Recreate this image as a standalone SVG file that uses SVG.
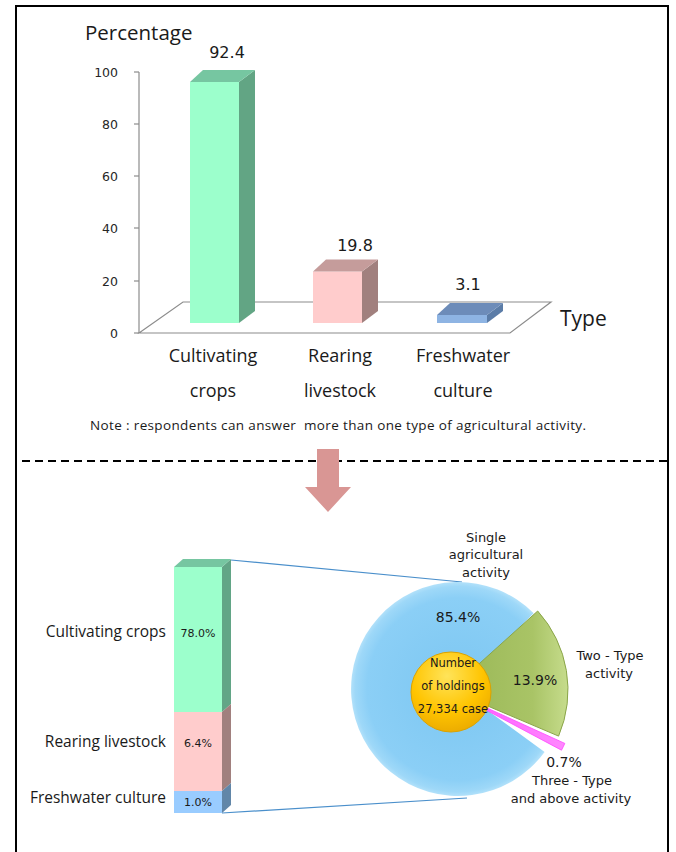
<svg xmlns="http://www.w3.org/2000/svg" width="676" height="852" viewBox="0 0 676 852">
<style>
.lbl{font-family:"Open Sans","Noto Sans",sans-serif;fill:#1a1a1a}
.num{font-family:"DejaVu Sans",Verdana,sans-serif;fill:#1a1a1a}
.tick{font-family:"DejaVu Sans",Verdana,sans-serif;font-size:12.5px;fill:#262626;text-anchor:end}
.axis{stroke:#8c8c8c;stroke-width:1.2;fill:none}
.conn{stroke:#4a8fcb;stroke-width:1.2;fill:none}
</style>
<defs>
<radialGradient id="gBlue" gradientUnits="userSpaceOnUse" cx="458" cy="689" r="107">
<stop offset="0" stop-color="#7cc6f1"/>
<stop offset="0.85" stop-color="#8bcff6"/>
<stop offset="0.96" stop-color="#9ed8f8"/>
<stop offset="1" stop-color="#b2e1fa"/>
</radialGradient>
<linearGradient id="gGreen" x1="0" y1="0" x2="1" y2="0">
<stop offset="0" stop-color="#98b655"/>
<stop offset="0.7" stop-color="#a9c466"/>
<stop offset="1" stop-color="#c6dc8c"/>
</linearGradient>
<linearGradient id="gPink" x1="0" y1="0" x2="1" y2="0">
<stop offset="0" stop-color="#ff55ff"/>
<stop offset="1" stop-color="#ff88ff"/>
</linearGradient>
<radialGradient id="gYel" cx="0.45" cy="0.3" r="0.75">
<stop offset="0" stop-color="#ffe45a"/>
<stop offset="0.6" stop-color="#ffc400"/>
<stop offset="1" stop-color="#e9a800"/>
</radialGradient>
</defs>

<!-- frame -->
<rect x="16" y="6" width="652" height="870" fill="#ffffff" stroke="#000000" stroke-width="2"/>

<!-- top bar chart -->
<g id="top-chart">
<text class="lbl" x="85" y="40" font-size="20.5">Percentage</text>
<polygon class="axis" points="139,333 183,302 551,302 510,333" stroke="#a0a0a0"/>
<line class="axis" x1="139" y1="72" x2="139" y2="333"/>
<g stroke="#8c8c8c" stroke-width="1.2">
<line x1="134" y1="72" x2="139" y2="72"/>
<line x1="134" y1="124" x2="139" y2="124"/>
<line x1="134" y1="176" x2="139" y2="176"/>
<line x1="134" y1="228" x2="139" y2="228"/>
<line x1="134" y1="281" x2="139" y2="281"/>
<line x1="134" y1="333" x2="139" y2="333"/>
</g>
<text class="tick" x="118" y="76.5">100</text>
<text class="tick" x="118" y="128.5">80</text>
<text class="tick" x="118" y="180.5">60</text>
<text class="tick" x="118" y="232.5">40</text>
<text class="tick" x="118" y="285.5">20</text>
<text class="tick" x="118" y="337.5">0</text>
<text class="lbl" x="560" y="326" font-size="21">Type</text>
</g>

<g id="bar-crops">
<rect x="190" y="82" width="49" height="241" fill="#9cffcc"/>
<polygon points="239,82 255,70 255,311 239,323" fill="#62a584"/>
<polygon points="190,82 203,70 255,70 239,82" fill="#76c6a1"/>
<text class="num" x="227" y="58" font-size="16" text-anchor="middle">92.4</text>
<text class="lbl" x="213" y="362" font-size="18" text-anchor="middle">Cultivating</text>
<text class="lbl" x="213" y="397" font-size="18" text-anchor="middle">crops</text>
</g>

<g id="bar-livestock">
<rect x="313" y="271.5" width="49" height="51.5" fill="#ffcccc"/>
<polygon points="362,271.5 378,259.5 378,311 362,323" fill="#a1807e"/>
<polygon points="313,271.5 326,259.5 378,259.5 362,271.5" fill="#c59c9b"/>
<text class="num" x="355" y="251" font-size="16" text-anchor="middle">19.8</text>
<text class="lbl" x="340" y="362" font-size="18" text-anchor="middle">Rearing</text>
<text class="lbl" x="340" y="397" font-size="18" text-anchor="middle">livestock</text>
</g>

<g id="bar-freshwater">
<rect x="437" y="315" width="50" height="8" fill="#8eb4e3"/>
<polygon points="487,315 503,303 503,311 487,323" fill="#5b7ca7"/>
<polygon points="437,315 450,303 503,303 487,315" fill="#6d8cb9"/>
<text class="num" x="468" y="290" font-size="16" text-anchor="middle">3.1</text>
<text class="lbl" x="463" y="362" font-size="18" text-anchor="middle">Freshwater</text>
<text class="lbl" x="463" y="397" font-size="18" text-anchor="middle">culture</text>
</g>

<text class="lbl" x="90" y="430" font-size="13.5" textLength="496" xml:space="preserve" fill="#262626">Note : respondents can answer  more than one type of agricultural activity.</text>

<!-- divider and arrow -->
<line x1="22" y1="461" x2="668" y2="461" stroke="#000000" stroke-width="2" stroke-dasharray="8 5"/>
<polygon id="down-arrow" points="317,449 339,449 339,487 351,487 328,512 305,487 317,487" fill="#d99694"/>

<!-- connectors -->
<g id="connectors">
<line class="conn" x1="231" y1="560" x2="462" y2="582"/>
<line class="conn" x1="222" y1="813" x2="467" y2="798"/>
</g>

<!-- stacked bar -->
<g id="stack-crops">
<rect x="174" y="567" width="48" height="145" fill="#9cffcc"/>
<polygon points="222,567 231,559 231,704 222,712" fill="#62a586"/>
<polygon points="174,567 183,559 231,559 222,567" fill="#76c6a1"/>
<text class="lbl" x="166" y="637" font-size="15.5" text-anchor="end">Cultivating crops</text>
<text class="num" x="198" y="637" font-size="11" text-anchor="middle">78.0%</text>
</g>
<g id="stack-livestock">
<rect x="174" y="712" width="48" height="79" fill="#ffcccc"/>
<polygon points="222,712 231,704 231,783 222,791" fill="#a1807e"/>
<text class="lbl" x="166" y="747" font-size="15.5" text-anchor="end">Rearing livestock</text>
<text class="num" x="198" y="747" font-size="11" text-anchor="middle">6.4%</text>
</g>
<g id="stack-freshwater">
<rect x="174" y="791" width="48" height="22" fill="#99ccff"/>
<polygon points="222,791 231,783 231,805 222,813" fill="#6186a8"/>
<text class="lbl" x="166" y="803" font-size="15.5" text-anchor="end">Freshwater culture</text>
<text class="num" x="198" y="806" font-size="11" text-anchor="middle">1.0%</text>
</g>

<!-- pie -->
<g id="slice-single">
<path d="M458,689 L544.6,751.9 A107,107 0 1 1 533.7,613.3 Z" fill="url(#gBlue)"/>
<text class="num" x="458" y="622" font-size="14" text-anchor="middle">85.4%</text>
<text class="num" x="486" y="542" font-size="13" text-anchor="middle">Single</text>
<text class="num" x="486" y="559" font-size="13" text-anchor="middle">agricultural</text>
<text class="num" x="486" y="577" font-size="13" text-anchor="middle">activity</text>
</g>
<g id="slice-two">
<path d="M450,690 L537.7,611 A118,118 0 0 1 558.6,736.1 Z" fill="url(#gGreen)" stroke="#8aa548" stroke-width="1"/>
<text class="num" x="535" y="685" font-size="14" text-anchor="middle">13.9%</text>
<text class="num" x="610" y="660" font-size="13" text-anchor="middle">Two - Type</text>
<text class="num" x="609" y="678" font-size="13" text-anchor="middle">activity</text>
</g>
<g id="slice-three">
<path d="M452,692 L564.8,743.4 A124,124 0 0 1 561.5,750.2 Z" fill="url(#gPink)" stroke="#ff44ff" stroke-width="0.8"/>
<text class="num" x="564" y="767" font-size="14" text-anchor="middle">0.7%</text>
<text class="num" x="572" y="785" font-size="13" text-anchor="middle">Three - Type</text>
<text class="num" x="571" y="803" font-size="13" text-anchor="middle">and above activity</text>
</g>
<g id="center-total">
<circle cx="451" cy="692" r="40" fill="url(#gYel)" stroke="#dba200" stroke-width="1"/>
<text class="num" x="453" y="667" font-size="11.5" text-anchor="middle">Number</text>
<text class="num" x="453" y="690" font-size="11.5" text-anchor="middle">of holdings</text>
<text class="num" x="453" y="713" font-size="11.5" text-anchor="middle">27,334 case</text>
</g>
</svg>
